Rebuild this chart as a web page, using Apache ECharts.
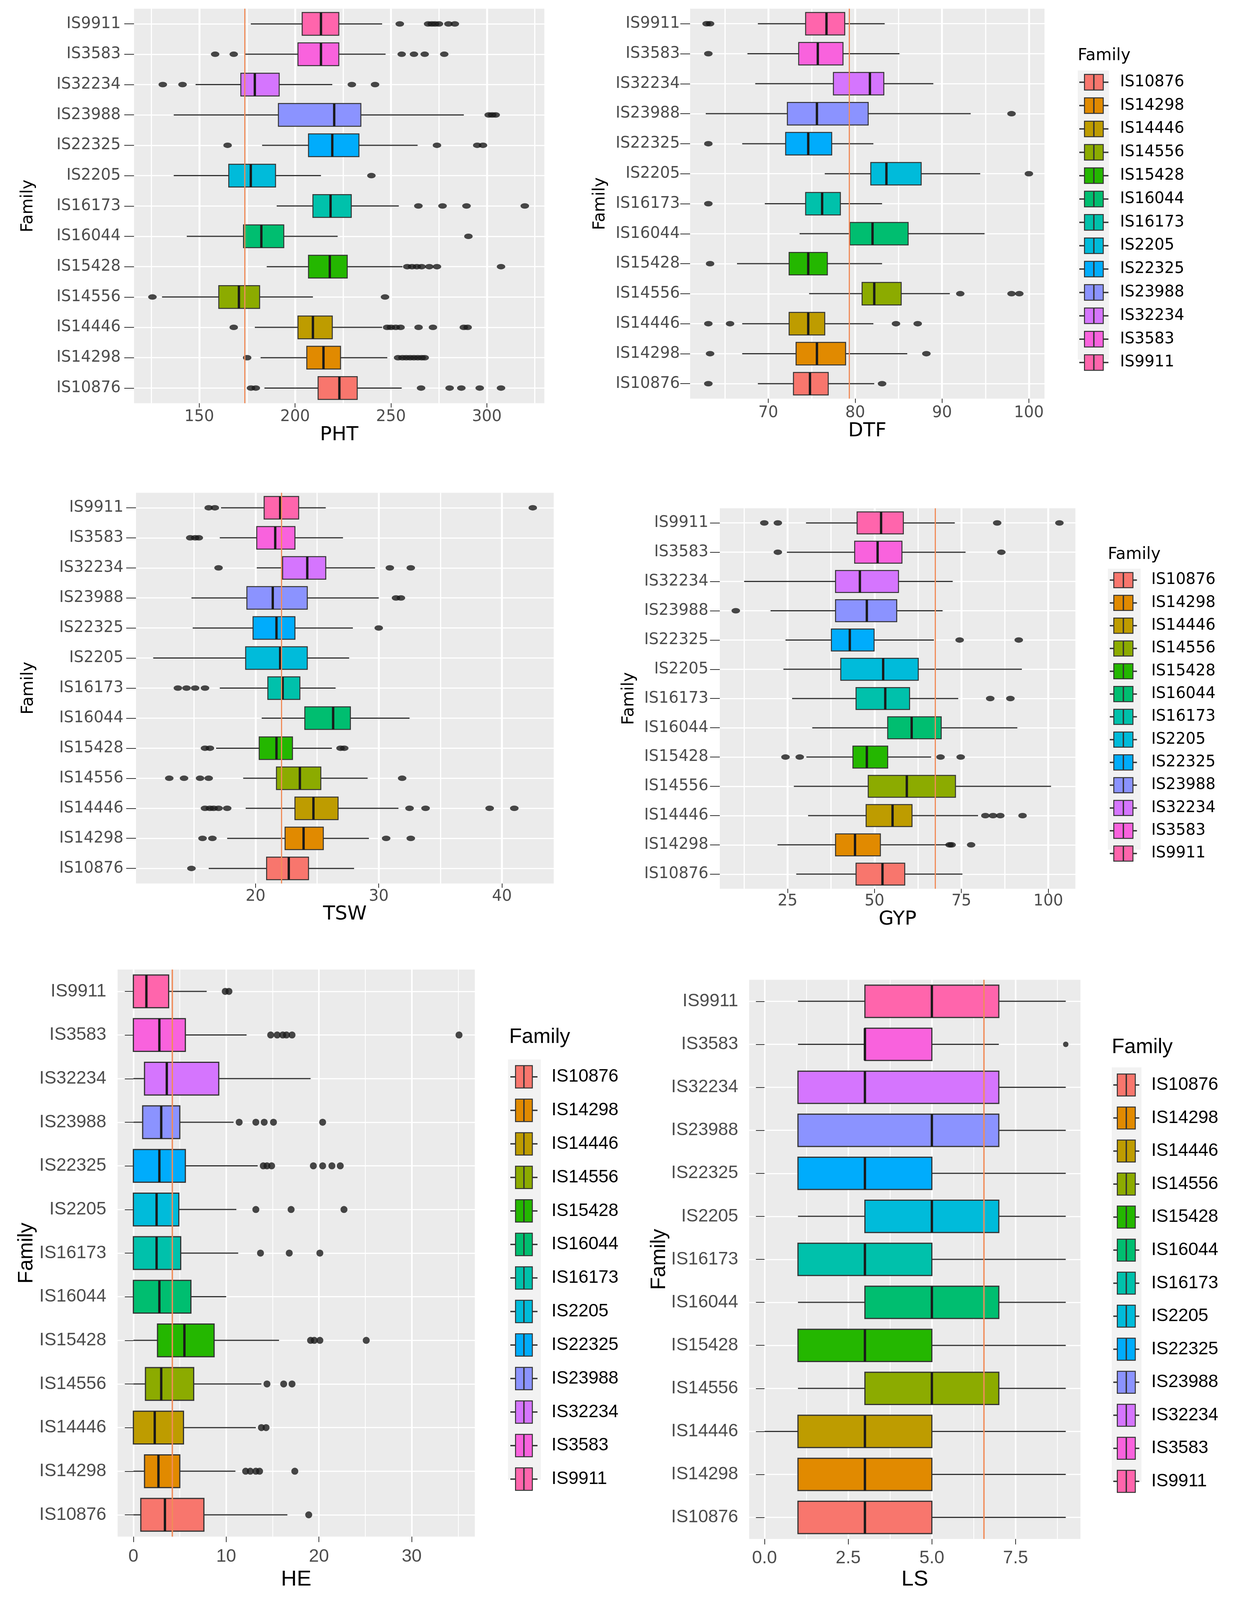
<!DOCTYPE html>
<html>
<head>
<meta charset="utf-8">
<title>Family boxplots</title>
<script src="https://cdn.jsdelivr.net/npm/echarts@6/dist/echarts.min.js"></script>
<style>
  html, body { margin: 0; padding: 0; background: #ffffff; overflow: hidden; }
  #chart { width: 3163px; height: 4218px; }
</style>
</head>
<body>
<div id="chart"></div>
<script>
// factor levels, bottom row first (same order as the legends)
const families = ['IS10876', 'IS14298', 'IS14446', 'IS14556', 'IS15428', 'IS16044', 'IS16173',
  'IS2205', 'IS22325', 'IS23988', 'IS32234', 'IS3583', 'IS9911']
const familyColors = ['#F8766D', '#E18A00', '#BE9C00', '#8CAB00', '#24B700', '#00BE70', '#00C1AB',
  '#00BBDA', '#00ACFC', '#8B93FF', '#D575FE', '#F962DD', '#FF65AC']

// [lower whisker, Q1, median, Q3, upper whisker] per family
const phtStats = [
  [184, 212, 223.1, 232.4, 255.6], [182, 206.1, 214.8, 223.7, 248.1], [179, 201.5, 209.3, 219.4, 245.4],
  [130.6, 160.2, 170.7, 181.5, 209.3], [185.2, 207, 218.1, 227.2, 256], [143.5, 173.1, 182.4, 194.1, 222.2],
  [190.4, 209.3, 218.5, 229.3, 254.1], [136.7, 165.4, 176.9, 189.8, 213.5], [182.8, 207, 219.4, 233.3, 263.9],
  [136.7, 191.3, 220.4, 234.3, 288], [148.1, 171.7, 179, 191.7, 219.4], [174, 201.5, 213.5, 222.8, 247.2],
  [176.9, 203.7, 213.5, 222.8, 245.4]
]
const phtOutliers = [
  [177, 179.5, 265.7, 280.6, 286.7, 296.3, 307.4], [175, 253.7, 256, 258, 260, 262, 264, 266, 267.6],
  [168, 248, 250, 252.5, 255, 264.4, 271.9, 288, 290], [125.6, 246.9],
  [258.5, 261, 263.5, 266, 270, 274, 307.4], [290.4], [264.3, 276.9, 289.4, 319.8], [239.8],
  [164.8, 274, 295, 298], [301, 302.8, 304.6], [131, 141.3, 229.6, 241.7],
  [158.3, 168, 255.6, 262, 267.6, 277.8], [254.6, 269.4, 271.3, 273, 275, 280, 283.3]
]
const phtMean = 173.7
const phtTicks = [150, 200, 250, 300]
const phtMinor = [125, 175, 225, 275, 325]

const dtfStats = [
  [68.8, 72.9, 74.8, 76.9, 82.2], [67.0, 73.2, 75.6, 78.9, 86.0], [67.0, 72.4, 74.6, 76.5, 82.1],
  [74.7, 80.8, 82.2, 85.3, 90.9], [66.4, 72.4, 74.6, 76.8, 83.1], [73.6, 79.4, 82.0, 86.1, 94.9],
  [69.6, 74.3, 76.2, 78.3, 83.1], [76.5, 81.8, 83.6, 87.6, 94.4], [67.0, 72.0, 74.6, 77.3, 82.1],
  [62.8, 72.2, 75.6, 81.5, 93.3], [68.5, 77.5, 81.7, 83.3, 89.0], [67.6, 73.5, 75.7, 78.6, 85.1],
  [68.8, 74.3, 76.7, 78.8, 83.4]
]
const dtfOutliers = [
  [63.1, 83.1], [63.3, 88.2], [63.1, 65.6, 84.7, 87.2], [92.1, 98.0, 98.9], [63.3], [], [63.1],
  [100.0], [63.1], [98.0], [], [63.1], [62.9, 63.3]
]
const dtfMean = 79.3
const dtfTicks = [70, 80, 90, 100]
const dtfMinor = [65, 75, 85, 95]

const tswStats = [
  [16.2, 20.9, 22.7, 24.3, 28.0], [17.7, 22.4, 23.9, 25.5, 29.2], [19.2, 23.2, 24.7, 26.7, 31.6],
  [19.0, 21.7, 23.6, 25.3, 29.1], [16.8, 20.3, 21.7, 23.0, 26.2], [20.5, 24.0, 26.3, 27.7, 32.5],
  [17.1, 21.0, 22.2, 23.6, 26.5], [11.7, 19.2, 22.0, 24.2, 27.6], [14.9, 19.8, 21.7, 23.2, 27.9],
  [14.8, 19.3, 21.4, 24.2, 30.0], [20.1, 22.2, 24.2, 25.7, 29.7], [17.1, 20.1, 21.6, 23.2, 27.1],
  [17.2, 20.7, 22.0, 23.5, 25.7]
]
const tswOutliers = [
  [14.8], [15.7, 16.5, 30.6, 32.6], [15.9, 16.3, 16.6, 17.0, 17.7, 32.5, 33.8, 39.0, 41.0],
  [13.0, 14.2, 15.5, 16.2, 31.9], [15.9, 16.3, 26.9, 27.2], [], [13.7, 14.4, 15.1, 15.9], [],
  [30.0], [31.4, 31.8], [17.0, 30.9, 32.6], [14.7, 15.1, 15.4], [16.2, 16.7, 42.5]
]
const tswMean = 22.1
const tswTicks = [20, 30, 40]
const tswMinor = [15, 25, 35]

const gypStats = [
  [27.5, 44.7, 52.3, 58.7, 75.3], [22.1, 38.8, 44.4, 51.7, 71.0], [30.9, 47.6, 55.2, 60.8, 79.8],
  [26.8, 48.2, 59.3, 73.3, 100.8], [30.4, 43.8, 47.8, 53.8, 66.3], [32.1, 53.8, 60.7, 69.2, 91.1],
  [26.3, 44.7, 53.1, 60.1, 74.1], [23.8, 40.3, 52.5, 62.6, 92.4], [24.4, 37.6, 42.9, 49.9, 67.1],
  [20.1, 38.8, 47.8, 56.4, 69.6], [12.5, 38.8, 45.8, 56.9, 72.5], [24.8, 44.3, 50.9, 57.9, 76.2],
  [30.3, 45.0, 51.9, 58.3, 73.1]
]
const gypOutliers = [
  [], [71.6, 72.2, 77.8], [81.9, 84.1, 86.2, 92.6], [], [24.4, 28.5, 69.0, 74.8], [], [83.3, 89.1],
  [], [74.5, 91.5], [10.1], [], [22.2, 86.5], [18.3, 22.2, 85.3, 103.2]
]
const gypMean = 67.5
const gypTicks = [25, 50, 75, 100]
const gypMinor = [12.5, 37.5, 62.5, 87.5]

const heStats = [
  [0, 0.8, 3.4, 7.6, 16.6], [0, 1.2, 2.7, 5.0, 11.0], [0, 0, 2.3, 5.4, 13.2], [0, 1.3, 3.0, 6.5, 13.8],
  [0, 2.6, 5.5, 8.7, 15.7], [0, 0, 2.8, 6.2, 10.0], [0, 0, 2.5, 5.1, 11.3], [0, 0, 2.5, 4.9, 11.1],
  [0, 0, 2.8, 5.6, 13.4], [0, 1.0, 3.0, 5.0, 10.8], [0, 1.2, 3.6, 9.2, 19.1], [0, 0, 2.8, 5.6, 12.2],
  [0, 0, 1.4, 3.8, 7.9]
]
const heOutliers = [
  [18.9], [12.1, 12.6, 13.2, 13.6, 17.4], [13.8, 14.3], [14.4, 16.2, 17.1], [19.1, 19.5, 20.1, 25.1],
  [], [13.7, 16.8, 20.1], [13.2, 17.0, 22.7], [14.0, 14.4, 14.9, 19.4, 20.4, 21.4, 22.3],
  [11.4, 13.2, 14.1, 15.1, 20.4], [], [14.8, 15.5, 16.1, 16.5, 17.1, 35.1], [9.9, 10.3]
]
const heMean = 4.2
const heTicks = [0, 10, 20, 30]
const heMinor = [5, 15, 25, 35]

const lsStats = [
  [1, 1, 3, 5, 9], [1, 1, 3, 5, 9], [0, 1, 3, 5, 9], [1, 3, 5, 7, 9], [1, 1, 3, 5, 9], [1, 3, 5, 7, 9],
  [1, 1, 3, 5, 9], [1, 3, 5, 7, 9], [1, 1, 3, 5, 9], [1, 1, 5, 7, 9], [1, 1, 3, 7, 9], [1, 3, 3, 5, 7],
  [1, 3, 5, 7, 9]
]
const lsOutliers = [[], [], [], [], [], [], [], [], [], [], [], [9], []]
const lsMean = 6.55
const lsTicks = [0, 2.5, 5, 7.5]
const lsMinor = [1.25, 3.75, 6.25, 8.75]

// the layout below is laid out for a 4218px tall page; squeeze it if the window is shorter
const sy = Math.min(1, (window.innerHeight || 4218) / 4218)
const Y = v => v * sy
document.getElementById('chart').style.height = Math.floor(4218 * sy) + 'px'

// look of the two rows of pictures (the top four were pasted in stretched sideways)
const topLook = {
  font: 'DejaVu Sans', tick: 40, xName: 50, yName: 42, legendText: 40, legendTitle: 42,
  xTickLen: 11, yTickLen: 25, majorW: 5, minorW: 3, rowW: 3,
  boxW: 2.5, medianW: 6, whiskerW: 3, dot: [22, 14], refW: 3
}
const bottomLook = {
  font: 'Liberation Sans', tick: 46, xName: 56, yName: 53, legendText: 46, legendTitle: 53,
  xTickLen: 14, yTickLen: 22, majorW: 4, minorW: 2, rowW: 3,
  boxW: 3, medianW: 6, whiskerW: 3, dot: [18, 18], refW: 3.5
}

const panels = [
  { trait: 'PHT', stats: phtStats, outliers: phtOutliers, ref: phtMean, ticks: phtTicks, minor: phtMinor,
    min: 116, max: 330, look: topLook,
    grid: { left: 343, top: 23, width: 1050, height: 1040 },
    yLabelMargin: 34, xLabelMargin: 16, xNameGap: 54, yNameGap: 250 },
  { trait: 'DTF', stats: dtfStats, outliers: dtfOutliers, ref: dtfMean, ticks: dtfTicks, minor: dtfMinor,
    min: 61, max: 101.8, look: topLook,
    grid: { left: 1766, top: 23, width: 907, height: 1028 },
    yLabelMargin: 26, xLabelMargin: 18, xNameGap: 55, yNameGap: 209,
    legend: { left: 2762, top: 195, w: 72, h: 41, stub: 12, gap: 18, pad: 26, titleLeft: 2758, titleTop: 126,
      bg: [2758, 186, 80, 762] } },
  { trait: 'TSW', stats: tswStats, outliers: tswOutliers, ref: tswMean, ticks: tswTicks, minor: tswMinor,
    min: 10.3, max: 44.2, look: topLook,
    grid: { left: 348, top: 1299, width: 1069, height: 1030 },
    yLabelMargin: 32, xLabelMargin: 14, xNameGap: 51, yNameGap: 254 },
  { trait: 'GYP', stats: gypStats, outliers: gypOutliers, ref: gypMean, ticks: gypTicks, minor: gypMinor,
    min: 5.5, max: 107.8, look: topLook,
    grid: { left: 1842, top: 1340, width: 910, height: 1003 },
    yLabelMargin: 29, xLabelMargin: 13, xNameGap: 45, yNameGap: 211,
    legend: { left: 2840, top: 1508, w: 67, h: 40, stub: 9, gap: 17.5, pad: 33, titleLeft: 2835, titleTop: 1441,
      bg: [2835, 1499, 84, 741] } },
  { trait: 'HE', stats: heStats, outliers: heOutliers, ref: heMean, ticks: heTicks, minor: heMinor,
    min: -1.7, max: 36.8, look: bottomLook,
    grid: { left: 301, top: 2556, width: 914, height: 1495 },
    yLabelMargin: 29, xLabelMargin: 29, xNameGap: 84, yNameGap: 206,
    legend: { left: 1306, top: 2808, w: 67, h: 59, stub: 12, gap: 26.8, pad: 32, titleLeft: 1303, titleTop: 2707,
      bg: [1300, 2793, 84, 1108] } },
  { trait: 'LS', stats: lsStats, outliers: lsOutliers, ref: lsMean, ticks: lsTicks, minor: lsMinor,
    min: -0.46, max: 9.44, look: bottomLook, dot: [14, 14], fixed: 1,
    grid: { left: 1917, top: 2583, width: 848, height: 1474 },
    yLabelMargin: 28, xLabelMargin: 27, xNameGap: 78, yNameGap: 191,
    legend: { left: 2849, top: 2830, w: 64, h: 58, stub: 9, gap: 26.5, pad: 27, titleLeft: 2845, titleTop: 2734,
      bg: [2845, 2814, 76, 1092] } }
]

// a ggplot-like key: whisker stubs, box, median
function keyIcon (w, h, s) {
  const m = h / 2 - 0.5
  return 'path://' +
    'M0,' + m + 'h' + s + 'v1h-' + s + 'Z' +
    'M' + s + ',0h' + (w - 2 * s) + 'v' + h + 'h-' + (w - 2 * s) + 'Z' +
    'M' + (w / 2 - 0.5) + ',0h1v' + h + 'h-1Z' +
    'M' + (w - s) + ',' + m + 'h' + s + 'v1h-' + s + 'Z'
}

function boxRenderer (look) {
  return function (params, api) {
    const cat = api.value(0)
    const h = api.size([0, 1])[1] * 0.75
    const pLow = api.coord([api.value(1), cat])
    const pQ1 = api.coord([api.value(2), cat])
    const pMed = api.coord([api.value(3), cat])
    const pQ3 = api.coord([api.value(4), cat])
    const pHigh = api.coord([api.value(5), cat])
    const y = pMed[1]
    const whisker = { stroke: '#333333', lineWidth: look.whiskerW }
    return {
      type: 'group',
      children: [
        { type: 'line', shape: { x1: pLow[0], y1: y, x2: pQ1[0], y2: y }, style: whisker },
        { type: 'line', shape: { x1: pQ3[0], y1: y, x2: pHigh[0], y2: y }, style: whisker },
        {
          type: 'rect',
          shape: { x: pQ1[0], y: y - h / 2, width: pQ3[0] - pQ1[0], height: h },
          style: { fill: api.visual('color'), stroke: '#333333', lineWidth: look.boxW }
        },
        {
          type: 'line',
          shape: { x1: pMed[0], y1: y - h / 2, x2: pMed[0], y2: y + h / 2 },
          style: { stroke: '#1A1A1A', lineWidth: look.medianW }
        }
      ]
    }
  }
}

const grids = []
const xAxes = []
const yAxes = []
const series = []
const legends = []
const titles = []
const graphics = []

panels.forEach((p, k) => {
  const look = p.look
  grids.push({
    show: true, backgroundColor: '#EBEBEB', borderWidth: 0, containLabel: false, outerBoundsMode: 'none',
    left: p.grid.left, width: p.grid.width, top: Y(p.grid.top), height: Y(p.grid.height)
  })

  xAxes.push({
    type: 'value', gridIndex: k, min: p.min, max: p.max,
    axisLine: { show: false },
    axisTick: { show: true, length: look.xTickLen, customValues: p.ticks, lineStyle: { color: '#333333', width: 2 } },
    axisLabel: {
      customValues: p.ticks, margin: Y(p.xLabelMargin), color: '#4D4D4D',
      fontFamily: look.font, fontSize: look.tick,
      formatter: v => (p.fixed ? v.toFixed(p.fixed) : String(v))
    },
    splitLine: { show: true, lineStyle: { color: '#FFFFFF', width: look.majorW } },
    name: p.trait, nameLocation: 'middle', nameGap: Y(p.xNameGap),
    nameTextStyle: { color: '#000000', fontFamily: look.font, fontSize: look.xName }
  })
  // minor grid lines only
  xAxes.push({
    type: 'value', gridIndex: k, min: p.min, max: p.max, position: 'bottom',
    axisLine: { show: false },
    axisTick: { show: false, customValues: p.minor },
    axisLabel: { show: false, customValues: p.minor },
    splitLine: { show: true, lineStyle: { color: '#FFFFFF', width: look.minorW } }
  })

  yAxes.push({
    type: 'category', gridIndex: k, data: families,
    axisLine: { show: false },
    axisTick: { show: true, alignWithLabel: true, length: look.yTickLen, lineStyle: { color: '#333333', width: 2 } },
    axisLabel: { margin: p.yLabelMargin, color: '#4D4D4D', fontFamily: look.font, fontSize: look.tick },
    splitLine: { show: true, alignWithLabel: true, lineStyle: { color: '#FFFFFF', width: look.rowW } },
    name: 'Family', nameLocation: 'middle', nameGap: p.yNameGap,
    nameTextStyle: { color: '#000000', fontFamily: look.font, fontSize: look.yName }
  })

  families.forEach((name, i) => {
    series.push({
      type: 'custom', name, xAxisIndex: 2 * k, yAxisIndex: k, z: 2,
      data: [[i].concat(p.stats[i])],
      encode: { x: [1, 2, 3, 4, 5], y: 0 },
      itemStyle: { color: familyColors[i], borderColor: '#333333', borderWidth: look.boxW },
      renderItem: boxRenderer(look)
    })
  })

  const points = []
  p.outliers.forEach((vals, i) => vals.forEach(v => points.push([v, i])))
  series.push({
    type: 'scatter', name: p.trait + ' outliers', xAxisIndex: 2 * k, yAxisIndex: k, z: 3, silent: true,
    data: points, symbol: 'circle', symbolSize: p.dot || look.dot,
    itemStyle: { color: '#1A1A1A' },
    markLine: {
      silent: true, symbol: ['none', 'none'], label: { show: false }, z: 5,
      lineStyle: { color: '#F08C5A', width: look.refW, type: 'solid' },
      data: [{ xAxis: p.ref }]
    }
  })

  if (p.legend) {
    const L = p.legend
    const h = Y(L.h)
    legends.push({
      orient: 'vertical', left: L.left, top: Y(L.top), padding: 0,
      itemWidth: L.w, itemHeight: h, itemGap: Y(L.gap),
      icon: keyIcon(L.w, h, L.stub),
      itemStyle: { borderColor: '#333333', borderWidth: 2.5 },
      data: families,
      selectedMode: false,
      textStyle: { color: '#000000', fontFamily: look.font, fontSize: look.legendText, padding: [0, 0, 0, L.pad] }
    })
    titles.push({
      text: 'Family', left: L.titleLeft, top: Y(L.titleTop), padding: 0,
      textStyle: { color: '#000000', fontWeight: 'normal', fontFamily: look.font, fontSize: look.legendTitle }
    })
    graphics.push({
      type: 'rect', z: 0, silent: true,
      shape: { x: L.bg[0], y: Y(L.bg[1]), width: L.bg[2], height: Y(L.bg[3]) },
      style: { fill: '#F2F2F2' }
    })
  }
})

const chart = echarts.init(document.getElementById('chart'))
chart.setOption({
  animation: false,
  backgroundColor: '#FFFFFF',
  title: titles,
  legend: legends,
  grid: grids,
  xAxis: xAxes,
  yAxis: yAxes,
  graphic: graphics,
  series
})
</script>
</body>
</html>
